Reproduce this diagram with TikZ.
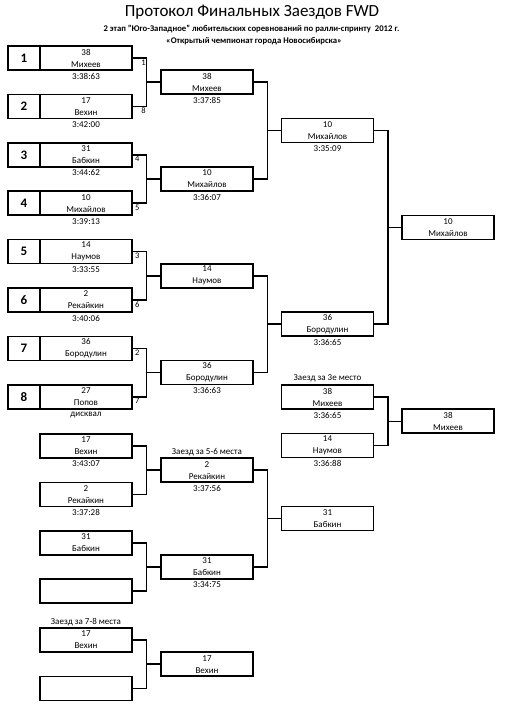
\documentclass[tikz,border=0pt]{standalone}
\usepackage{fontspec}
\setmainfont{Carlito}
\usetikzlibrary{positioning,calc}

\begin{document}
\begin{tikzpicture}[%
x=1pt, y=-1pt,
node distance=48.4pt,
on grid,
racer/.style={draw, line width=1.6pt, minimum width=92pt, minimum height=24pt, inner sep=0pt, align=center, font=\fontsize{9}{12}\selectfont},
seed/.style={draw, line width=1.6pt, minimum width=32pt, minimum height=24pt, inner sep=0pt, font=\bfseries\fontsize{13}{13}\selectfont},
time/.style={inner sep=0pt, font=\fontsize{9}{9}\selectfont},
heat/.style={inner sep=0pt, font=\fontsize{9}{9}\selectfont},
tag/.style={inner sep=0pt, font=\fontsize{8.5}{8.5}\selectfont},
conn/.style={line width=1.5pt},
stub/.style={line width=0.7pt}
]
\useasboundingbox (0,0) rectangle (508,710);

% header
\node (title) at (252,12) {\fontsize{17}{17}\selectfont Протокол Финальных Заездов FWD};
\node[font=\bfseries\fontsize{8.7}{8.7}\selectfont] (sub1) at (251.5,29) {2 этап "Юго-Западное" любительских соревнований по ралли-спринту\ \ 2012 г.};
\node[font=\bfseries\fontsize{8.7}{8.7}\selectfont] (sub2) at (254,41) {«Открытый чемпионат города Новосибирска»};

% first round
\node[racer] (r1) at (86,58) {38\\Михеев};
\node[racer] (r2) [below of=r1] {17\\Вехин};
\node[racer] (r3) [below of=r2] {31\\Бабкин};
\node[racer] (r4) [below of=r3] {10\\Михайлов};
\node[racer] (r5) [below of=r4] {14\\Наумов};
\node[racer] (r6) [below of=r5] {2\\Рекайкин};
\node[racer] (r7) [below of=r6] {36\\Бородулин};
\node[racer] (r8) [below of=r7] {27\\Попов};

\node[seed, node distance=62pt] (s1) [left of=r1] {1};
\node[seed, node distance=62pt] (s2) [left of=r2] {2};
\node[seed, node distance=62pt] (s3) [left of=r3] {3};
\node[seed, node distance=62pt] (s4) [left of=r4] {4};
\node[seed, node distance=62pt] (s5) [left of=r5] {5};
\node[seed, node distance=62pt] (s6) [left of=r6] {6};
\node[seed, node distance=62pt] (s7) [left of=r7] {7};
\node[seed, node distance=62pt] (s8) [left of=r8] {8};

\node[time] (t1) [below=18pt of r1] {3:38:63};
\node[time] (t2) [below=18pt of r2] {3:42:00};
\node[time] (t3) [below=18pt of r3] {3:44:62};
\node[time] (t4) [below=18pt of r4] {3:39:13};
\node[time] (t5) [below=18pt of r5] {3:33:55};
\node[time] (t6) [below=18pt of r6] {3:40:06};
\node[time] (t8) [below=18pt of r8] {дисквал};

% second round
\node[racer] (q1) at ($(r1)!.5!(r2)+(121,0)$) {38\\Михеев};
\node[racer] (q2) at ($(r3)!.5!(r4)+(121,0)$) {10\\Михайлов};
\node[racer] (q3) at ($(r5)!.5!(r6)+(121,0)$) {14\\Наумов};
\node[racer] (q4) at ($(r7)!.5!(r8)+(121,0)$) {36\\Бородулин};
\node[time] (tq1) [below=18pt of q1] {3:37:85};
\node[time] (tq2) [below=18pt of q2] {3:36:07};
\node[time] (tq4) [below=18pt of q4] {3:36:63};

% semifinal and final
\node[racer] (h1) at ($(q1)!.5!(q2)+(120.5,0)$) {10\\Михайлов};
\node[racer] (h2) at ($(q3)!.5!(q4)+(120.5,0)$) {36\\Бородулин};
\node[time] (th1) [below=18pt of h1] {3:35:09};
\node[time] (th2) [below=18pt of h2] {3:36:65};
\node[racer] (win) at ($(h1)!.5!(h2)+(120.5,0)$) {10\\Михайлов};

% third place
\node[racer] (m1) at (327.5,397) {38\\Михеев};
\node[racer] (m2) [below of=m1] {14\\Наумов};
\node[heat] (hm) [above=19pt of m1] {Заезд за 3е место};
\node[time] (tm1) [below=18pt of m1] {3:36:65};
\node[time] (tm2) [below=18pt of m2] {3:36:88};
\node[racer] (third) at ($(m1)!.5!(m2)+(120.5,0)$) {38\\Михеев};

% places 5-8
\node[racer] (l1) at (86,446) {17\\Вехин};
\node[racer] (l2) [below of=l1] {2\\Рекайкин};
\node[racer] (l3) [below of=l2] {31\\Бабкин};
\node[racer] (l4) [below of=l3] {};
\node[time] (tl1) [below=18pt of l1] {3:43:07};
\node[time] (tl2) [below=18pt of l2] {3:37:28};

\node[racer] (p1) at ($(l1)!.5!(l2)+(121,0)$) {2\\Рекайкин};
\node[racer] (p2) at ($(l3)!.5!(l4)+(121,0)$) {31\\Бабкин};
\node[heat] (hp) [above=18pt of p1] {Заезд за 5-6 места};
\node[time] (tp1) [below=18pt of p1] {3:37:56};
\node[time] (tp2) [below=18pt of p2] {3:34:75};
\node[racer] (fifth) at ($(p1)!.5!(p2)+(120.5,0)$) {31\\Бабкин};

\node[racer] (v1) at (86,640) {17\\Вехин};
\node[racer] (v2) [below of=v1] {};
\node[heat] (hv) [above=18pt of v1] {Заезд за 7-8 места};
\node[racer] (seventh) at ($(v1)!.5!(v2)+(121,0)$) {17\\Вехин};

% lane numbers
\node[tag, anchor=north east] (g1) at ($(r1.east)+(13,1.5)$) {1};
\node[tag, anchor=north east] (g2) at ($(r2.east)+(13,1.5)$) {8};
\node[tag, anchor=north west] (g3) at ($(r3.east)+(2,1.5)$) {4};
\node[tag, anchor=north west] (g4) at ($(r4.east)+(2,1.5)$) {5};
\node[tag, anchor=north west] (g5) at ($(r5.east)+(2,1.5)$) {3};
\node[tag, anchor=north west] (g6) at ($(r6.east)+(2,1.5)$) {6};
\node[tag, anchor=north west] (g7) at ($(r7.east)+(2,1.5)$) {2};
\node[tag, anchor=north west] (g8) at ($(r8.east)+(2,1.5)$) {7};

% brackets
\draw[conn] (r1.east) -| ($(r1.east)!.5!(q1.west)$) |- (r2.east);
\draw[conn] (q1.west) -- ++(-14.5,0);
\draw[conn] (r3.east) -| ($(r3.east)!.5!(q2.west)$) |- (r4.east);
\draw[conn] (q2.west) -- ++(-14.5,0);
\draw[conn] (r5.east) -| ($(r5.east)!.5!(q3.west)$) |- (r6.east);
\draw[conn] (q3.west) -- ++(-14.5,0);
\draw[conn] (r7.east) -| ($(r7.east)!.5!(q4.west)$) |- (r8.east);
\draw[conn] (q4.west) -- ++(-14.5,0);

\draw[conn] (q1.east) -| ($(q1.east)!.5!(h1.west)$) |- (q2.east);
\draw[conn] (h1.west) -- ++(-14,0);
\draw[conn] (q3.east) -| ($(q3.east)!.5!(h2.west)$) |- (q4.east);
\draw[conn] (h2.west) -- ++(-14,0);

\draw[conn] (h1.east) -| ($(h1.east)!.5!(win.west)$) |- (h2.east);
\draw[stub] (win.west) -- ++(-14,0);

\draw[conn] (m1.east) -| ($(m1.east)!.5!(third.west)$) |- (m2.east);
\draw[stub] (third.west) -- ++(-14,0);

\draw[conn] (l1.east) -| ($(l1.east)!.5!(p1.west)$) |- (l2.east);
\draw[conn] (p1.west) -- ++(-14.5,0);
\draw[conn] (l3.east) -| ($(l3.east)!.5!(p2.west)$) |- (l4.east);
\draw[conn] (p2.west) -- ++(-14.5,0);
\draw[conn] (p1.east) -| ($(p1.east)!.5!(fifth.west)$) |- (p2.east);
\draw[stub] (fifth.west) -- ++(-14,0);

\draw[conn] (v1.east) -| ($(v1.east)!.5!(seventh.west)$) |- (v2.east);
\draw[conn] (seventh.west) -- ++(-14.5,0);
\end{tikzpicture}
\end{document}
